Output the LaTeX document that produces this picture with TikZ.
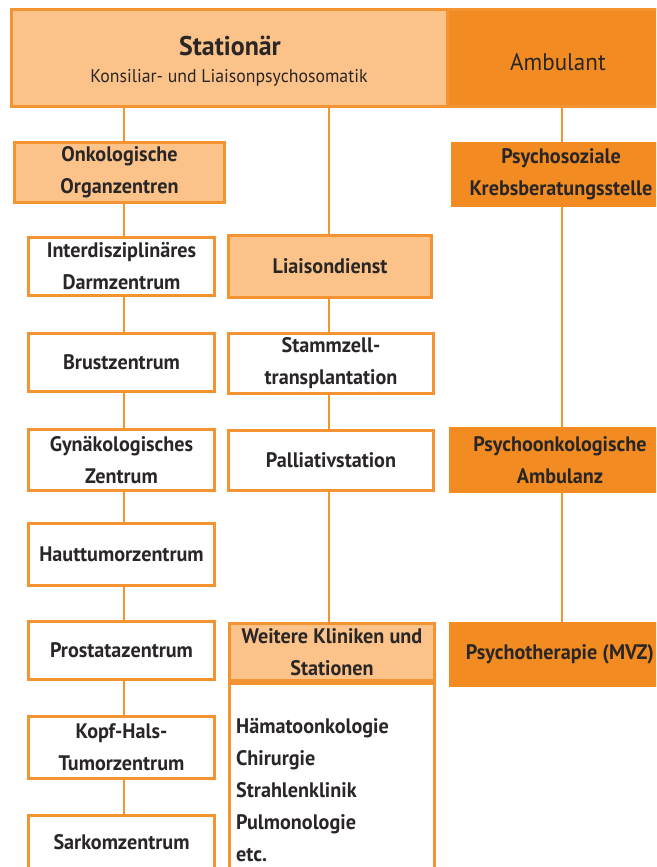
\documentclass[tikz,border=0pt]{standalone}
\usepackage{fontspec}
\setmainfont{PT Sans}[FakeStretch=0.96]
\definecolor{ORB}{HTML}{F39331}
\definecolor{LIGHT}{HTML}{FBC38A}
\definecolor{DARK}{HTML}{F28C22}
\definecolor{TXT}{HTML}{2A2626}
\newcommand{\bxfont}{\fontsize{21}{32}\selectfont\bfseries}
\begin{document}
\begin{tikzpicture}[x=1pt,y=-1pt,
  basebox/.style={rectangle, inner sep=0pt, align=center, text=TXT, font=\bxfont},
  lbox/.style={basebox, draw=ORB, line width=3pt, fill=LIGHT},
  wbox/.style={basebox, draw=ORB, line width=3pt, fill=white},
  dbox/.style={basebox, fill=DARK, draw=none},
  conn/.style={draw=ORB, line width=2.5pt},
  lbl/.style={inner sep=0pt, text=TXT}]
\useasboundingbox (0,0) rectangle (656,867);
\clip (0,0) rectangle (656,867);
% header
\node[dbox, minimum width=226pt, minimum height=100pt] (amb) at (560,58) {};
\draw[ORB, line width=3pt] (10,9.5) -- (660,9.5) (10,106.5) -- (660,106.5);
\node[lbox, minimum width=436pt, minimum height=97pt] (stat) at (229,58) {};
\node[lbl, font=\fontsize{27}{30}\selectfont\bfseries] (stattitle) at (230,46) {Stationär};
\node[lbl, font=\fontsize{18.5}{22}\selectfont] (statsub) at (229,78) {Konsiliar- und Liaisonpsychosomatik};
\node[lbl, font=\fontsize{24}{28}\selectfont] (ambtext) at (558,62) {Ambulant};
% coordinates for the connector lines
\coordinate (lx) at (124,0);
\coordinate (mx) at (329,0);
\coordinate (rx) at (562,0);
% left column
\node[lbox, minimum width=210pt, minimum height=60pt] (onk) at (119.5,172.5) {Onkologische\\Organzentren};
\node[wbox, minimum width=186pt, minimum height=58pt] (darm) at (121.5,266) {Interdisziplinäres\\Darmzentrum};
\node[wbox, minimum width=186pt, minimum height=58pt] (brust) at (121.5,362.5) {Brustzentrum};
\node[wbox, minimum width=186pt, minimum height=61pt] (gyn) at (121.5,460) {Gynäkologisches\\Zentrum};
\node[wbox, minimum width=186pt, minimum height=62pt] (haut) at (121.5,554.5) {Hauttumorzentrum};
\node[wbox, minimum width=186pt, minimum height=58pt] (prost) at (121.5,650.5) {Prostatazentrum};
\node[wbox, minimum width=186pt, minimum height=62pt] (kopf) at (121.5,747.5) {Kopf-Hals-\\Tumorzentrum};
\node[wbox, minimum width=186pt, minimum height=54pt] (sark) at (121.5,842.5) {Sarkomzentrum};
% middle column
\node[lbox, minimum width=203pt, minimum height=62pt] (liai) at (330,266.5) {Liaisondienst};
\node[wbox, minimum width=205pt, minimum height=60pt] (stamm) at (331,363.5) {Stammzell-\\transplantation};
\node[wbox, minimum width=205pt, minimum height=60pt] (pall) at (331,460.5) {Palliativstation};
\node[lbox, minimum width=205pt, minimum height=57pt] (weit) at (332,652) {Weitere Kliniken und\\Stationen};
\node[wbox, anchor=north, minimum width=205pt, minimum height=220pt] (listbox) at (weit.south) {};
\node[lbl, anchor=west, align=left, font=\bxfont] (listtext) at (236,790) {Hämatoonkologie\\Chirurgie\\Strahlenklinik\\Pulmonologie\\etc.};
% right column
\node[dbox, minimum width=220pt, minimum height=65pt] (psk) at (561,174.5) {Psychosoziale\\Krebsberatungsstelle};
\node[dbox, minimum width=222pt, minimum height=66pt] (poa) at (560,460) {Psychoonkologische\\Ambulanz};
\node[dbox, minimum width=222pt, minimum height=65pt] (pt) at (560,654.5) {Psychotherapie (MVZ)};
% connectors
\draw[conn] (stat.south -| lx) -- (onk.north -| lx);
\draw[conn] (onk.south -| lx) -- (darm.north -| lx);
\draw[conn] (darm.south -| lx) -- (brust.north -| lx);
\draw[conn] (brust.south -| lx) -- (gyn.north -| lx);
\draw[conn] (gyn.south -| lx) -- (haut.north -| lx);
\draw[conn] (haut.south -| lx) -- (prost.north -| lx);
\draw[conn] (prost.south -| lx) -- (kopf.north -| lx);
\draw[conn] (kopf.south -| lx) -- (sark.north -| lx);
\draw[conn] (stat.south -| mx) -- (liai.north -| mx);
\draw[conn] (liai.south -| mx) -- (stamm.north -| mx);
\draw[conn] (stamm.south -| mx) -- (pall.north -| mx);
\draw[conn] (pall.south -| mx) -- (weit.north -| mx);
\draw[conn] (amb.south -| rx) -- (psk.north -| rx);
\draw[conn] (psk.south -| rx) -- (poa.north -| rx);
\draw[conn] (poa.south -| rx) -- (pt.north -| rx);
\end{tikzpicture}
\end{document}
